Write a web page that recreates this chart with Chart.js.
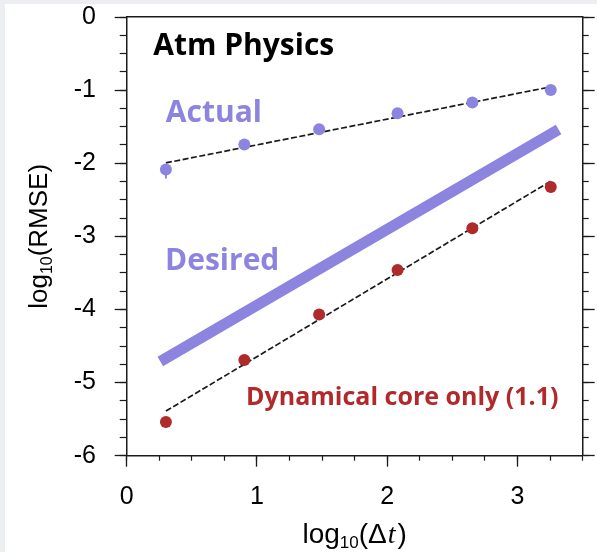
<!DOCTYPE html>
<html>
<head>
<meta charset="utf-8">
<script src="https://cdn.jsdelivr.net/npm/chart.js@4.4.0/dist/chart.umd.min.js"></script>
<style>
  html, body { margin: 0; padding: 0; background: #eceef2; }
  #wrap { position: absolute; left: 5px; top: 4px; width: 592px; height: 548px; background: #fff; }
</style>
</head>
<body>
<div id="wrap"><canvas id="rmse" width="592" height="548"></canvas></div>
<script>
// log10 of the time steps (2, 8, 30, 120, 450, 1800 s)
const logDt = [0.301, 0.903, 1.477, 2.079, 2.653, 3.255];
// log10(RMSE) with the full atmospheric physics
const actualErr = [-2.086, -1.744, -1.534, -1.315, -1.168, -1.0];
// spread shown on the smallest step
const actualSpread = [-2.01, -2.21];
// log10(RMSE) of the dynamical core alone
const dycoreErr = [-5.54, -4.69, -4.07, -3.46, -2.89, -2.325];
// dashed fits, evaluated at the first and last step
const fitDt = [0.301, 3.255];
const actualFit = [-1.995, -0.955];
const dycoreFit = [-5.39, -2.245];
// first-order target line
const desiredDt = [0.258, 3.315];
const desiredErr = [-4.71, -1.54];
// major tick labels
const xTicks = [0, 1, 2, 3];
const yTicks = [0, -1, -2, -3, -4, -5, -6];

const purple = '#8d84e0';
const red = '#b02a2c';
const ink = '#1a1a1a';

const pts = (xs, ys) => xs.map((x, i) => ({ x: x, y: ys[i] }));

// text drawn inside the plot, anchored in data units
const notes = [
  { text: 'Atm Physics', x: 0.204, y: -0.52, font: 'bold 30px "Open Sans"', color: '#000' },
  { text: 'Actual', x: 0.30, y: -1.434, font: 'bold 30px "Open Sans"', color: purple },
  { text: 'Desired', x: 0.294, y: -3.456, font: 'bold 30px "Open Sans"', color: purple },
  { text: 'Dynamical core only (1.1)', x: 0.916, y: -5.30, font: 'bold 25px "Open Sans"', color: red }
];

const notesPlugin = {
  id: 'notes',
  afterDatasetsDraw(chart) {
    const { ctx, scales } = chart;
    ctx.save();
    ctx.textAlign = 'left';
    ctx.textBaseline = 'alphabetic';
    notes.forEach(n => {
      ctx.font = n.font;
      ctx.fillStyle = n.color;
      ctx.fillText(n.text, scales.x.getPixelForValue(n.x), scales.y.getPixelForValue(n.y));
    });
    ctx.restore();
  }
};

// axis titles need a subscript and an italic t, so they are drawn by hand
function drawRich(ctx, parts, x, y, rot) {
  ctx.save();
  ctx.translate(x, y);
  ctx.rotate(rot);
  ctx.fillStyle = '#000';
  ctx.textBaseline = 'alphabetic';
  ctx.textAlign = 'left';
  let w = 0;
  parts.forEach(p => { ctx.font = p.font; w += ctx.measureText(p.text).width + (p.gap || 0); });
  let cx = -w / 2;
  parts.forEach(p => {
    ctx.font = p.font;
    ctx.fillText(p.text, cx, p.dy || 0);
    cx += ctx.measureText(p.text).width + (p.gap || 0);
  });
  ctx.restore();
}

const titlesPlugin = {
  id: 'titles',
  afterDraw(chart) {
    const { ctx, chartArea } = chart;
    const midX = (chartArea.left + chartArea.right) / 2;
    const midY = (chartArea.top + chartArea.bottom) / 2;
    drawRich(ctx, [
      { text: 'log', font: '26px "Liberation Sans"' },
      { text: '10', font: '16px "Liberation Sans"', dy: 5 },
      { text: '(RMSE)', font: '26px "Liberation Sans"' }
    ], 41.7, midY, -Math.PI / 2);
    drawRich(ctx, [
      { text: 'log', font: '28px "Liberation Sans"' },
      { text: '10', font: '17px "Liberation Sans"', dy: 5 },
      { text: '(\u0394', font: '28px "Liberation Sans"', gap: 1 },
      { text: 't', font: 'italic 28px "Liberation Serif"', gap: 2 },
      { text: ')', font: '28px "Liberation Sans"' }
    ], midX, 539, 0);
  }
};

// pin axis box sizes so the plot area lands where it should
const pinWidth = w => s => { s.width = w; s.paddingTop = 0; s.paddingBottom = 0; };
const pinHeight = h => s => { s.height = h; s.paddingLeft = 0; s.paddingRight = 0; };

const tickFont = { family: 'Liberation Sans', size: 25, lineHeight: 1 };

function minorAxis(pos, min, max, len, pin) {
  return {
    type: 'linear', position: pos, min: min, max: max, weight: 0,
    afterFit: pin,
    ticks: { display: false, stepSize: 0.25, maxTicksLimit: 100 },
    grid: { drawOnChartArea: false, color: ink, tickLength: len, tickWidth: 1.2 },
    border: { display: false }
  };
}

new Chart(document.getElementById('rmse'), {
  type: 'scatter',
  data: {
    datasets: [
      {
        label: 'Actual',
        data: pts(logDt, actualErr),
        backgroundColor: purple, borderWidth: 0, pointRadius: 6, order: 0
      },
      {
        label: 'Dynamical core only',
        data: pts(logDt, dycoreErr),
        backgroundColor: red, borderWidth: 0, pointRadius: 6, order: 0
      },
      {
        label: 'spread',
        data: pts([logDt[0], logDt[0]], actualSpread),
        showLine: true, borderColor: purple, borderWidth: 2, pointRadius: 0, order: 1
      },
      {
        label: 'Actual fit',
        data: pts(fitDt, actualFit),
        showLine: true, borderColor: ink, borderWidth: 1.7, borderDash: [6, 2.5], pointRadius: 0, order: 1
      },
      {
        label: 'Dycore fit',
        data: pts(fitDt, dycoreFit),
        showLine: true, borderColor: ink, borderWidth: 1.7, borderDash: [6, 2.5], pointRadius: 0, order: 1
      },
      {
        label: 'Desired',
        data: pts(desiredDt, desiredErr),
        showLine: true, borderColor: purple, borderWidth: 11, borderCapStyle: 'butt', pointRadius: 0, order: 2
      }
    ]
  },
  options: {
    responsive: false,
    animation: false,
    events: [],
    layout: { padding: { top: 13, right: 14.3, left: 0, bottom: 0 } },
    plugins: { legend: { display: false }, tooltip: { enabled: false } },
    scales: {
      x: {
        type: 'linear', position: 'bottom', min: 0, max: 3.5, weight: 1,
        afterBuildTicks: s => { s.ticks = xTicks.map(v => ({ value: v })); },
        afterFit: pinHeight(96.3),
        grid: { drawOnChartArea: false, color: ink, tickLength: 11, tickWidth: 1.3 },
        border: { color: ink, width: 1.5 },
        ticks: { color: '#000', padding: 18, font: tickFont }
      },
      xMinor: minorAxis('bottom', 0, 3.5, 5, pinHeight(0)),
      xTop: {
        type: 'linear', position: 'top', min: 0, max: 3.5,
        afterFit: pinHeight(0),
        ticks: { display: false },
        grid: { display: false },
        border: { color: ink, width: 1.5 }
      },
      y: {
        type: 'linear', position: 'left', min: -6, max: 0, weight: 1,
        afterBuildTicks: s => { s.ticks = yTicks.map(v => ({ value: v })); },
        afterFit: pinWidth(121.7),
        grid: { drawOnChartArea: false, color: ink, tickLength: 12, tickWidth: 1.3 },
        border: { color: ink, width: 1.5 },
        ticks: { color: '#000', padding: 18.7, font: tickFont }
      },
      yMinor: minorAxis('left', -6, 0, 7, pinWidth(0)),
      yRight: {
        type: 'linear', position: 'right', min: -6, max: 0, weight: 1,
        afterBuildTicks: s => { s.ticks = yTicks.map(v => ({ value: v })); },
        afterFit: pinWidth(0),
        ticks: { display: false },
        grid: { drawOnChartArea: false, color: ink, tickLength: 12, tickWidth: 1.3 },
        border: { color: ink, width: 1.5 }
      },
      yRightMinor: minorAxis('right', -6, 0, 6, pinWidth(0))
    }
  },
  plugins: [notesPlugin, titlesPlugin]
});
</script>
</body>
</html>
